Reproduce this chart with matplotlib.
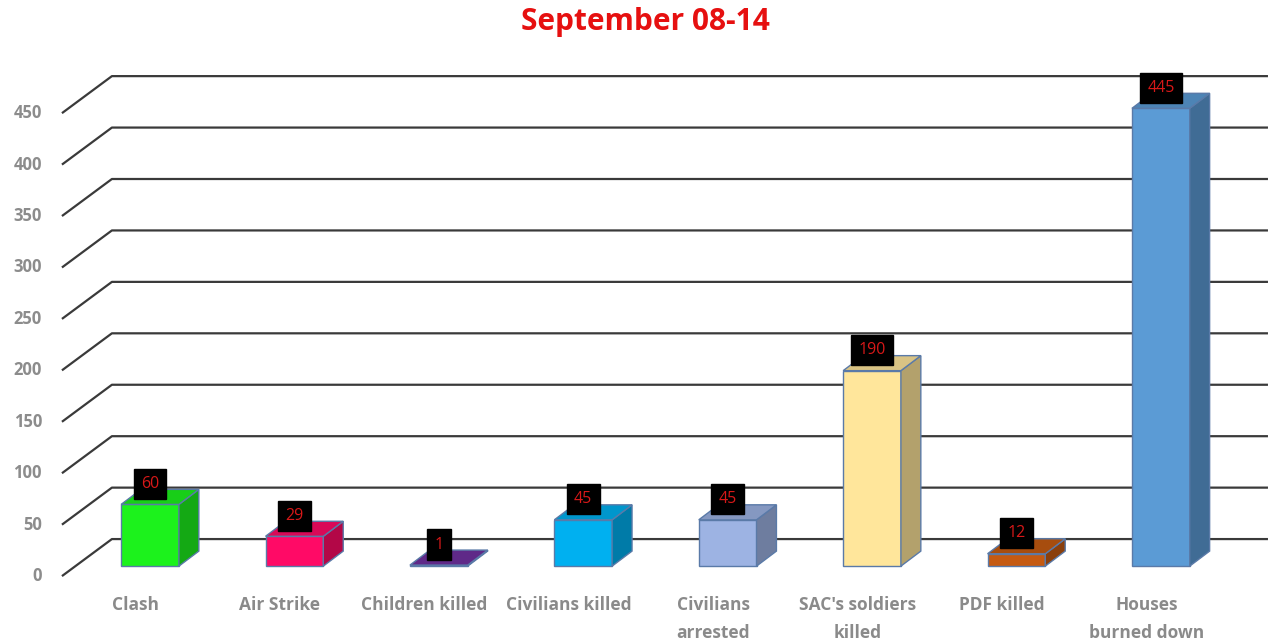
import matplotlib.pyplot as plt
import matplotlib.colors as mcolors
import numpy as np

categories = ['Clash', 'Air Strike', 'Children killed', 'Civilians killed',
              'Civilians\narrested', "SAC's soldiers\nkilled", 'PDF killed',
              'Houses\nburned down']
values = [60, 29, 1, 45, 45, 190, 12, 445]
colors = ['#1cf21c', '#ff0a66', '#7030a0', '#00b0f0',
          '#9db3e3', '#ffe69b', '#c55a11', '#5b9bd5']
yticks = list(range(0, 451, 50))

plt.rcParams['font.family'] = ['Open Sans', 'DejaVu Sans']

fig = plt.figure(figsize=(12.71, 6.44), dpi=100)
ax = fig.add_axes([0, 0, 1, 1])
ax.set_xlim(-1.039, 7.763)
ax.set_ylim(-66, 560)
ax.axis('off')

# fake 3d: wall depth and bar depth (x in category units, y in value units)
WALL_X0, WALL_DX, WALL_DY = -0.61, 0.346, 36
BAR_X0, BAR_Y0 = 0.0, 9.7          # front face offset of bars
BAR_W, BAR_DX, BAR_DY = 0.40, 0.138, 14.6
GRID_END = 7.742

for v in yticks:
    ax.plot([WALL_X0, WALL_X0 + WALL_DX, GRID_END], [v, v + WALL_DY, v + WALL_DY],
            color='#3a3a3a', lw=1.6, zorder=1, solid_capstyle='butt')
    ax.text(-0.748, v, str(v), ha='right', va='center', fontsize=12,
            fontweight='bold', color='#8c8c8c')

def shade(c, f):
    r, g, b = mcolors.to_rgb(c)
    return (r * f, g * f, b * f)

edge = '#5a7aa8'
for i, (val, c) in enumerate(zip(values, colors)):
    x0 = i - BAR_W / 2 + BAR_X0
    x1 = i + BAR_W / 2 + BAR_X0
    y0 = BAR_Y0
    y1 = BAR_Y0 + val
    # front
    ax.fill([x0, x1, x1, x0], [y0, y0, y1, y1], color=c, ec=edge, lw=1, zorder=3)
    # side
    ax.fill([x1, x1 + BAR_DX, x1 + BAR_DX, x1],
            [y0, y0 + BAR_DY, y1 + BAR_DY, y1],
            color=shade(c, 0.7), ec=edge, lw=1, zorder=3)
    # top
    ax.fill([x0, x1, x1 + BAR_DX, x0 + BAR_DX],
            [y1, y1, y1 + BAR_DY, y1 + BAR_DY],
            color=shade(c, 0.85), ec=edge, lw=1, zorder=3)
    ax.text(i, y1 + 20, str(val), ha='center', va='center', fontsize=11.5,
            color='#d81818', zorder=5,
            bbox=dict(boxstyle='square,pad=0.45', fc='black', ec='black'))
    ax.text(i - 0.1, -19, categories[i], ha='center', va='top', fontsize=12.5,
            fontweight='bold', color='#8a8a8a', linespacing=1.75)

ax.text(3.43, 539, 'September 08-14', ha='center', va='center', fontsize=21.5,
        fontweight='bold', color='#e61010')

fig.savefig('out.png', dpi=100)
